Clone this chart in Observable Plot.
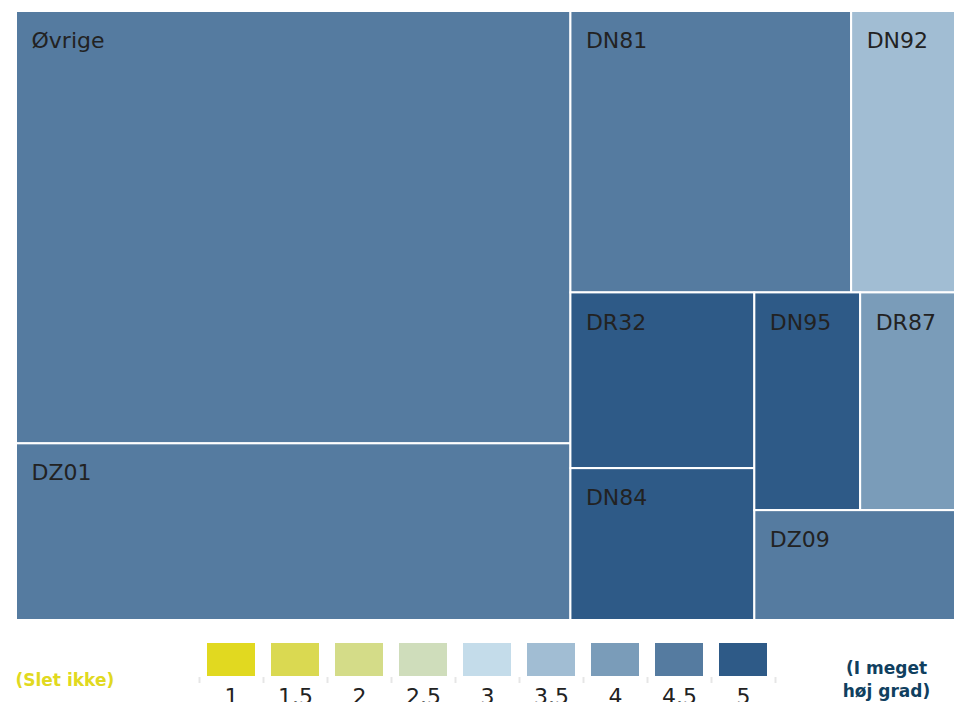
<!DOCTYPE html>
<html><head><meta charset="utf-8">
<script src="https://cdn.jsdelivr.net/npm/d3@7"></script>
<script src="https://cdn.jsdelivr.net/npm/@observablehq/plot@0.6"></script>
<style>body{margin:0;background:#fff;} svg{display:block;}</style>
</head><body><div id="chart"></div><script>
// Treemap leaves
const labels = ["Øvrige", "DZ01", "DN81", "DN92", "DR32", "DN84", "DN95", "DR87", "DZ09"];
const sizes  = [240.3, 98.2, 79.2, 29.3, 32.4, 28.0, 23.1, 20.7, 22.1];
const scores = [4.5, 4.5, 4.5, 3.5, 5, 5, 5, 4, 4.5];
// grouping (nesting) used by the slice-dice layout
const groups = [["A"], ["A"], ["B","B1"], ["B","B1"], ["B","B2","C1"], ["B","B2","C1"],
                ["B","B2","C2","D1"], ["B","B2","C2","D1"], ["B","B2","C2","E"]];
// Colour scale
const scaleValues = [1, 1.5, 2, 2.5, 3, 3.5, 4, 4.5, 5];
const scaleColors = ["#e1d920", "#dad951", "#d4dc88", "#cfddbb", "#c4dcea", "#a1bdd3", "#7a9cb9", "#557ba0", "#2e5a87"];
const lowLabel = "(Slet ikke)";
const highLabel = "(I meget\nhøj grad)";

const rows = labels.map((label, i) => ({path: "/" + [...groups[i], label].join("/"), label, size: sizes[i], score: scores[i]}));
const root = d3.stratify().path(d => d.path)(rows).sum(d => (d && d.size) ? d.size : 0);
const W = 939, H = 609;
d3.treemap().tile(d3.treemapSliceDice).size([W, H])(root);
const leaves = root.leaves().map(n => ({...n.data, x0: n.x0, x1: n.x1, y0: n.y0, y1: n.y1}));

const color = {type: "ordinal", domain: scaleValues, range: scaleColors};
const font = "DejaVu Sans, Verdana, sans-serif";

const tree = Plot.plot({
  width: 955, height: 620, margin: 0,
  style: {fontFamily: font, background: "white"},
  x: {domain: [0, W], range: [16, 955], axis: null},
  y: {domain: [0, H], range: [11, 620], axis: null},
  color,
  marks: [
    Plot.rect(leaves, {x1: "x0", x2: "x1", y1: "y0", y2: "y1", fill: "score", stroke: "white", strokeWidth: 2}),
    Plot.text(leaves, {x: "x0", y: "y0", text: "label", textAnchor: "start", lineAnchor: "top",
      dx: 15, dy: 21, fontSize: 22, fill: "#222"})
  ]
});

const legend = Plot.plot({
  width: 955, height: 82, margin: 0,
  style: {fontFamily: font, background: "white", overflow: "hidden"},
  x: {type: "band", domain: scaleValues, range: [198, 776], paddingInner: 0.25, paddingOuter: 0.125, axis: null},
  color,
  marks: [
    Plot.cell(scaleValues, {x: d => d, fill: d => d, insetTop: 23, insetBottom: 26}),
    Plot.ruleX(scaleValues, {x: d => d, dx: -32, insetTop: 57, insetBottom: 19, stroke: "#e6e6e6", strokeWidth: 2}),
    Plot.ruleX([scaleValues[scaleValues.length - 1]], {x: d => d, dx: 32, insetTop: 57, insetBottom: 19, stroke: "#e6e6e6", strokeWidth: 2}),
    Plot.text(scaleValues, {x: d => d, text: d => String(d), frameAnchor: "top", lineAnchor: "bottom", dy: 83, fontSize: 22, fill: "#222"}),
    Plot.text([lowLabel], {text: d => d, frameAnchor: "top-left", textAnchor: "start", lineAnchor: "bottom",
      dx: 15, dy: 65, fontSize: 17, fontWeight: "bold", fill: scaleColors[0]}),
    Plot.text([highLabel], {text: d => d, frameAnchor: "top-right", textAnchor: "middle", lineAnchor: "bottom",
      dx: -69, dy: 76, fontSize: 17, lineHeight: 1.3, fontWeight: "bold", fill: "#103f5f"})
  ]
});

const el = document.getElementById("chart");
el.appendChild(tree);
el.appendChild(legend);
</script></body></html>
